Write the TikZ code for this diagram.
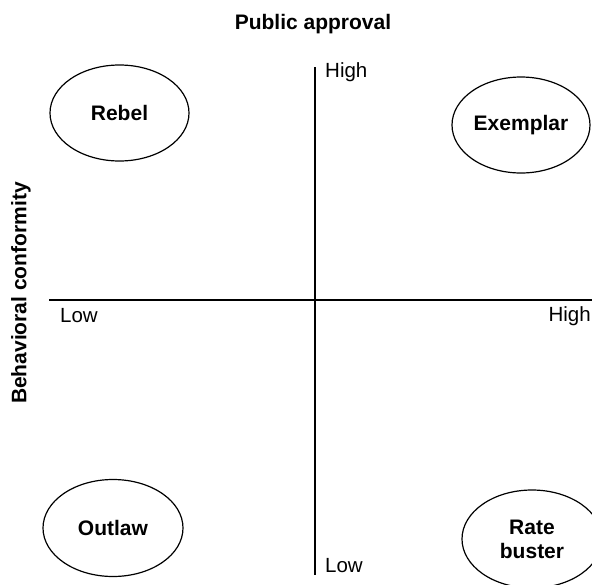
\documentclass[tikz,border=0pt]{standalone}
\usepackage{fontspec}
\setmainfont{Liberation Sans}
\usetikzlibrary{shapes.geometric}
\begin{document}
\begin{tikzpicture}[x=1pt,y=-1pt,
  role/.style={draw, line width=1.2pt, ellipse, align=center, inner sep=0pt, font=\fontsize{21}{24}\selectfont\bfseries},
  axis/.style={line width=1.2pt},
  lbl/.style={font=\fontsize{20.5}{23}\selectfont, inner sep=0pt},
  ttl/.style={font=\fontsize{21}{24}\selectfont\bfseries, inner sep=0pt}]
\useasboundingbox (0,0) rectangle (592,584);
\node[ttl] (title) at (313,24) {Public approval};
\node[ttl, rotate=90] (ylab) at (21,293) {Behavioral conformity};
\coordinate (vtop) at (315,67);
\coordinate (vbot) at (315,575);
\coordinate (hleft) at (49,300);
\coordinate (hright) at (592,300);
\draw[axis] (vtop) -- (vbot);
\draw[axis] (hleft) -- (hright);
\node[lbl, anchor=west] (hi1) at (325,72) {High};
\node[lbl, anchor=west] (lo1) at (60,316) {Low};
\node[lbl, anchor=east] (hi2) at (591,316) {High};
\node[lbl, anchor=west] (lo2) at (325,566) {Low};
\node[role, minimum width=139, minimum height=96] (rebel) at (119.5,113) {Rebel};
\node[role, minimum width=138, minimum height=96] (exemplar) at (521,125) {Exemplar};
\node[role, minimum width=140, minimum height=97] (outlaw) at (113,528) {Outlaw};
\node[role, minimum width=140, minimum height=98] (rate) at (532,539) {Rate\\buster};
\end{tikzpicture}
\end{document}
